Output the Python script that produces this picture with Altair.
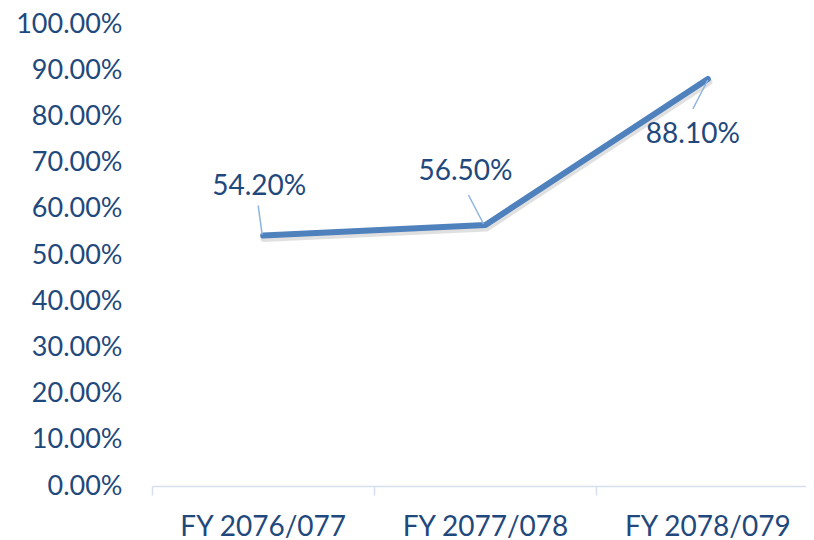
import altair as alt
import pandas as pd

categories = ["FY 2076/077", "FY 2077/078", "FY 2078/079"]
values = [0.542, 0.565, 0.881]
labels = ["54.20%", "56.50%", "88.10%"]
y_ticks = [0.0, 0.1, 0.2, 0.3, 0.4, 0.5, 0.6, 0.7, 0.8, 0.9, 1.0]

df = pd.DataFrame({"cat": categories, "val": values, "label": labels})

FONT = "Lato"
TXT = "#1F497D"
FS = 28

xenc = alt.X("cat:N", sort=categories, bandPosition=0.5,
             scale=alt.Scale(type="band", paddingInner=0, paddingOuter=0, range=[0, 667]),
             axis=alt.Axis(title=None, bandPosition=0, labelFont=FONT, labelFontSize=FS,
                           labelColor=TXT, labelAngle=0, domainColor="#D5DFEE",
                           domainWidth=1.5, tickColor="#D5DFEE", tickWidth=1.5,
                           tickSize=9, labelPadding=18, grid=False))
yenc = alt.Y("val:Q", scale=alt.Scale(domain=[0, 1]),
             axis=alt.Axis(title=None, values=y_ticks, format=".2%", labelFont=FONT,
                           labelFontSize=27, labelColor=TXT, domain=False, ticks=False,
                           grid=False, labelPadding=30))

base = alt.Chart(df)

shadow = base.mark_line(color="#000000", opacity=0.12, strokeWidth=7, xOffset=1,
                        yOffset=3, strokeCap="round", strokeJoin="round").encode(x=xenc, y=yenc)
line = base.mark_line(color="#4F81BD", strokeWidth=6, strokeCap="round",
                      strokeJoin="round").encode(x=xenc, y=yenc)

label_offsets = {
    "FY 2076/077": dict(dx=-4, dy=-49),
    "FY 2077/078": dict(dx=-20, dy=-53),
    "FY 2078/079": dict(dx=-15, dy=56),
}
leader_offsets = {
    "FY 2076/077": dict(xOffset=-1, yOffset=-1, x2Offset=-5, y2Offset=-30),
    "FY 2077/078": dict(xOffset=-2, yOffset=-1, x2Offset=-17, y2Offset=-30),
    "FY 2078/079": dict(xOffset=0, yOffset=1, x2Offset=-15, y2Offset=30),
}

layers = [shadow, line]
for c in categories:
    lo = leader_offsets[c]
    layers.append(
        base.transform_filter(alt.datum.cat == c)
        .mark_rule(color="#8DB4E2", strokeWidth=1.5, **lo)
        .encode(x=xenc, y=yenc,
                x2=alt.X2("cat", bandPosition=0.5), y2=alt.Y2("val"))
    )
    to = label_offsets[c]
    layers.append(
        base.transform_filter(alt.datum.cat == c)
        .mark_text(font=FONT, fontSize=FS, color=TXT, align="center", baseline="middle", **to)
        .encode(x=xenc, y=yenc, text="label:N")
    )

chart = alt.layer(*layers).properties(
    width=654, height=462,
    background="white",
    autosize=alt.AutoSizeParams(type="none"),
    padding={"left": 144, "top": 16, "right": 0, "bottom": 58},
).configure_view(strokeWidth=0)

chart.save("out.html", embed_options={"renderer": "svg", "actions": False})
